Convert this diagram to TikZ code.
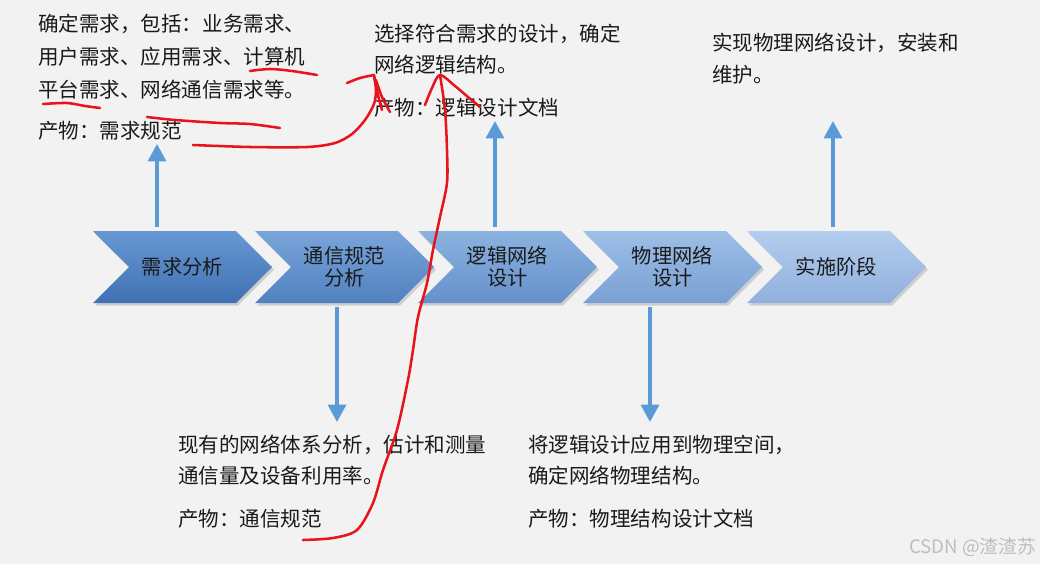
\documentclass[tikz,border=0pt]{standalone}
\usepackage{fontspec}
\setmainfont{Noto Sans CJK SC}
\usetikzlibrary{shapes.symbols,arrows.meta,shadows}
\definecolor{bg}{HTML}{F2F2F2}
\definecolor{txtc}{HTML}{1A1A1A}
\definecolor{arrc}{HTML}{5B9BD5}
\definecolor{redc}{HTML}{E8141B}
\definecolor{wm}{HTML}{BEBEBE}
\definecolor{ctA}{HTML}{6898D2}\definecolor{cbA}{HTML}{3F71B3}
\definecolor{ctB}{HTML}{79A5DA}\definecolor{cbB}{HTML}{5181BF}
\definecolor{ctC}{HTML}{8BB2E0}\definecolor{cbC}{HTML}{6590CA}
\definecolor{ctD}{HTML}{9DBFE7}\definecolor{cbD}{HTML}{7AA0D3}
\definecolor{ctE}{HTML}{B2CDEE}\definecolor{cbE}{HTML}{90B0DC}
\begin{document}
\begin{tikzpicture}[x=0.75pt,y=-0.75pt,
  txt/.style={anchor=west, inner sep=0pt, font=\fontsize{15.4pt}{18pt}\selectfont, text height=0.88em, text depth=0.12em, text=txtc},
  chev/.style={signal, signal to=east, signal from=west, signal pointer angle=90,
    minimum width=134.25pt, minimum height=54pt, inner sep=0pt, align=center,
    font=\fontsize{15.2pt}{16.5pt}\selectfont, text=txtc,
    drop shadow={opacity=0.25, shadow xshift=1.5pt, shadow yshift=-2pt, fill=black!60}},
  arr/.style={draw=arrc, line width=2.4pt, -{Triangle[width=13.5pt,length=13pt]}},
  redline/.style={draw=redc, line width=1.9pt, line cap=round, line join=round}]
\useasboundingbox[fill=bg] (0,0) rectangle (1040,564);

% chevrons
\node[chev, top color=ctA, bottom color=cbA] (c1) at (182.5,267) {需求分析};
\node[chev, top color=ctB, bottom color=cbB] (c2) at (344.5,267) {通信规范\\分析};
\node[chev, top color=ctC, bottom color=cbC] (c3) at (507.5,267) {逻辑网络\\设计};
\node[chev, top color=ctD, bottom color=cbD] (c4) at (672.5,267) {物理网络\\设计};
\node[chev, top color=ctE, bottom color=cbE] (c5) at (836.5,267) {实施阶段};

% arrows
\coordinate (t1) at (157,144);
\coordinate (t2) at (337,422);
\coordinate (t3) at (495,121);
\coordinate (t4) at (650,422);
\coordinate (t5) at (833,121);
\draw[arr, shorten <=2.5pt] (c1.north -| t1) -- (t1);
\draw[arr, shorten <=3pt] (c2.south -| t2) -- (t2);
\draw[arr, shorten <=2.5pt] (c3.north -| t3) -- (t3);
\draw[arr, shorten <=3pt] (c4.south -| t4) -- (t4);
\draw[arr, shorten <=2.5pt] (c5.north -| t5) -- (t5);

% texts
\node[txt] (a1) at (38,26) {确定需求，包括：业务需求、};
\node[txt] (a2) at (38,59) {用户需求、应用需求、计算机};
\node[txt] (a3) at (38,92) {平台需求、网络通信需求等。};
\node[txt] (a4) at (38,133) {产物：需求规范};
\node[txt] (b1) at (374,36) {选择符合需求的设计，确定};
\node[txt] (b2) at (374,67.5) {网络逻辑结构。};
\node[txt] (b3) at (374,110) {产物：逻辑设计文档};
\node[txt] (e1) at (712,45) {实现物理网络设计，安装和};
\node[txt] (e2) at (712,77) {维护。};
\node[txt] (d1) at (178,447) {现有的网络体系分析，估计和测量};
\node[txt] (d2) at (178,478) {通信量及设备利用率。};
\node[txt] (d3) at (178,521) {产物：通信规范};
\node[txt] (f1) at (528,447) {将逻辑设计应用到物理空间，};
\node[txt] (f2) at (528,478) {确定网络物理结构。};
\node[txt] (f3) at (528,521) {产物：物理结构设计文档};

\node[anchor=east, inner sep=0pt, font=\fontsize{14pt}{16pt}\selectfont, text=wm] (wmk) at (1036,547) {CSDN @渣渣苏};

% red hand annotations
\draw[redline] plot[smooth] coordinates {(250,71) (270,69) (292,71) (317,75)};
\draw[redline] plot[smooth] coordinates {(43,104) (67,103) (85,106) (100,108)};
\draw[redline] plot[smooth] coordinates {(147,117) (175,120) (220,123) (250,124) (280,128)};
\draw[redline] plot[smooth] coordinates {(193,145) (250,147) (307,147) (335,143) (352,134) (365,120) (374,104) (376,90) (374,76)};
\draw[redline] plot[smooth] coordinates {(347,83) (360,78) (374,75)};
\draw[redline] plot[smooth] coordinates {(374,75) (378,95) (382,110)};
\draw[redline] plot[smooth] coordinates {(376,80) (382,97) (390,112)};
\draw[redline] plot[smooth] coordinates {(425,105) (432,88) (440,75) (455,86) (468,97) (480,107)};
\draw[redline] plot[smooth] coordinates {(440,75) (445,110) (447,150) (447,183) (440,217) (433,250) (427,283) (418,317) (413,350) (408,380) (397,430) (383,470) (373,503) (357,530) (333,538) (303,540)};
\end{tikzpicture}
\end{document}
